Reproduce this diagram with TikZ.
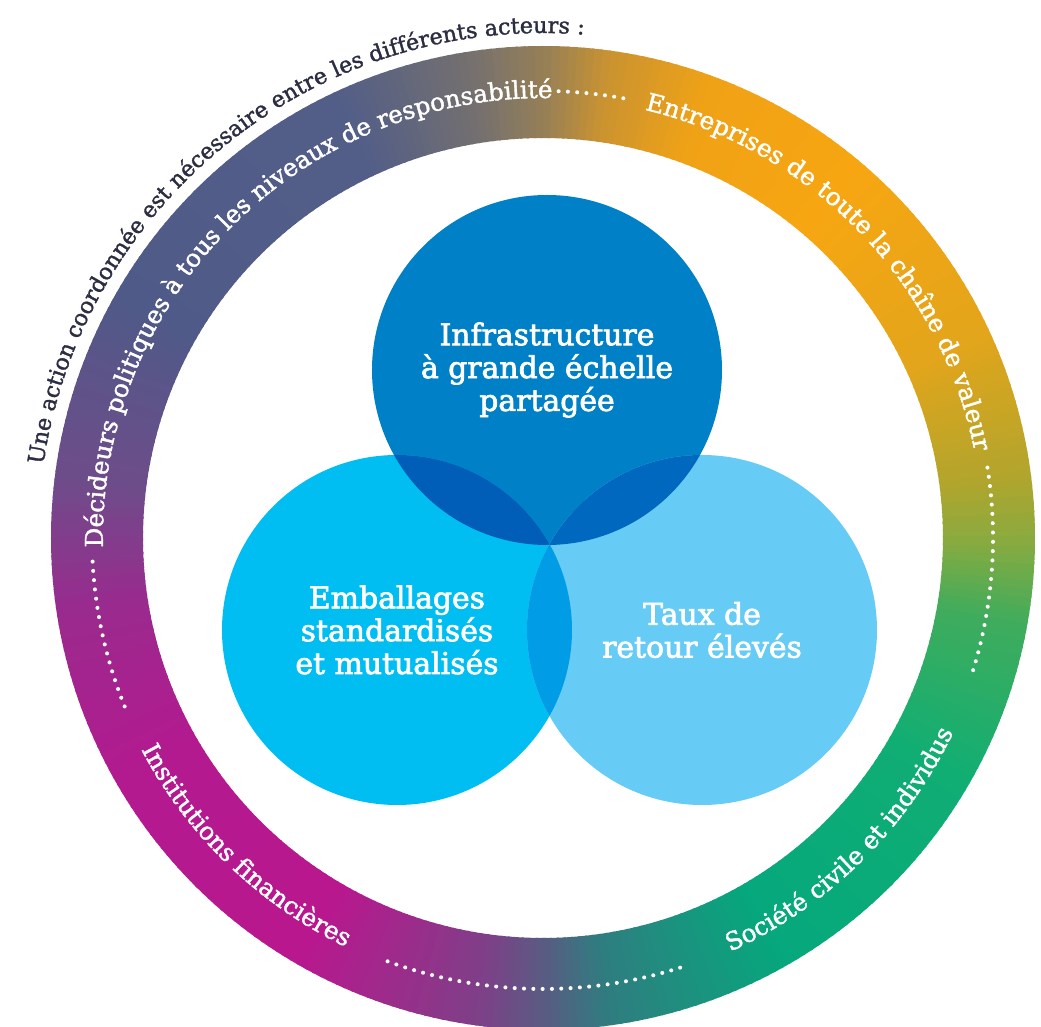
\documentclass[tikz,border=0pt]{standalone}
\usepackage{fontspec}
\setmainfont{DejaVu Serif}
\newfontfamily\ringfam{DejaVu Serif}[FakeBold=1.5]
\newfontfamily\vennfam{DejaVu Serif}[FakeBold=2.4]
\usetikzlibrary{decorations.text}
\usetikzlibrary{positioning}

\definecolor{infrablue}{HTML}{0080C6}
\definecolor{packblue}{HTML}{00BEF2}
\definecolor{returnblue}{HTML}{66CCF5}
\definecolor{infrapack}{HTML}{005EB8}
\definecolor{infrareturn}{HTML}{0068BF}
\definecolor{packreturn}{HTML}{009DE6}
\definecolor{titlenavy}{HTML}{2B2D42}

\definecolor{rA}{HTML}{8CAA3E}
\definecolor{rB}{HTML}{B3A52C}
\definecolor{rC}{HTML}{E3A51B}
\definecolor{rD}{HTML}{F7A611}
\definecolor{rE}{HTML}{F0A216}
\definecolor{rF}{HTML}{CA9330}
\definecolor{rG}{HTML}{957F57}
\definecolor{rH}{HTML}{747070}
\definecolor{rI}{HTML}{535E88}
\definecolor{rJ}{HTML}{4F5A88}
\definecolor{rK}{HTML}{6E4C8A}
\definecolor{rL}{HTML}{9A2A8E}
\definecolor{rM}{HTML}{B31A8F}
\definecolor{rN}{HTML}{B9178E}
\definecolor{rO}{HTML}{803F88}
\definecolor{rP}{HTML}{5A5B82}
\definecolor{rQ}{HTML}{2F7D80}
\definecolor{rR}{HTML}{06A87D}
\definecolor{rS}{HTML}{10AE74}
\definecolor{rT}{HTML}{40AC5C}

\newcommand{\ringfont}{\ringfam\fontsize{14}{16}\selectfont}
\newcommand{\titlefont}{\ringfam\fontsize{12.7}{15}\selectfont}

\tikzset{
  venntext/.style={align=center, text=white, font=\vennfam\fontsize{17}{18.7}\selectfont},
  ringlabel/.style={decorate, decoration={text along path, text align=center, text color=white, text={|\ringfont|#1}}},
  dotline/.style={draw=white, line width=2.3pt, line cap=round, dash pattern=on 0pt off 5.3pt}
}

\begin{document}
\begin{tikzpicture}[x=0.02cm, y=0.02cm]
\clip (-543,-489) rectangle (498,538);

\foreach \sa/\sb/\ca/\cb in {0/8/rA/rB, 8/25/rB/rC, 25/50/rC/rD, 50/70/rD/rE, 70/82/rE/rF, 82/90/rF/rG, 90/99/rG/rH, 99/115/rH/rI, 115/150/rI/rJ, 150/173/rJ/rK, 173/189/rK/rL, 189/210/rL/rM, 210/240/rM/rN, 240/262/rN/rO, 262/270/rO/rP, 270/278/rP/rQ, 278/300/rQ/rR, 300/330/rR/rS, 330/350/rS/rT, 350/360/rT/rA}{
  \pgfmathtruncatemacro\nseg{\sb-\sa}
  \foreach \i in {1,...,\nseg}{
    \pgfmathsetmacro\pa{\sa+\i-1}
    \pgfmathsetmacro\pb{\pa+1.3}
    \pgfmathtruncatemacro\mix{100-100*(\i-0.5)/\nseg}
    \fill[\ca!\mix!\cb] (\pa:400) arc[start angle=\pa, end angle=\pb, radius=400]
      -- (\pb:492) arc[start angle=\pb, end angle=\pa, radius=492] -- cycle;
  }
}

\path[ringlabel={Décideurs politiques à tous les niveaux de responsabilité}]
  (200:440) arc[start angle=200, end angle=70, radius=440];
\path[ringlabel={Entreprises de toute la chaîne de valeur}]
  (89:440) arc[start angle=89, end angle=-1, radius=440];
\path[ringlabel={Société civile et individus}]
  (-80:454) arc[start angle=-80, end angle=-11, radius=454];
\path[ringlabel={Institutions financières}]
  (190:454) arc[start angle=190, end angle=262, radius=454];
\path[decorate, decoration={text along path, text align=center, text color=titlenavy,
  text={|\titlefont|Une action coordonnée est nécessaire entre les différents acteurs :}}]
  (182:505) arc[start angle=182, end angle=75, radius=505];

\draw[dotline] (88:447) arc[start angle=88, end angle=78.5, radius=447];
\draw[dotline] (9:450) arc[start angle=9, end angle=-18, radius=450];
\draw[dotline] (-72.3:451) arc[start angle=-72.3, end angle=-110.4, radius=451];
\draw[dotline] (183:451) arc[start angle=183, end angle=202.7, radius=451];

\coordinate (infraC) at (4,168);
\coordinate (packC) at (-146,-92);
\coordinate (returnC) at (159,-92);

\fill[infrablue] (infraC) circle[radius=175];
\fill[packblue] (packC) circle[radius=175];
\fill[returnblue] (returnC) circle[radius=175];
\begin{scope}
  \clip (infraC) circle[radius=175];
  \fill[infrapack] (packC) circle[radius=175];
  \fill[infrareturn] (returnC) circle[radius=175];
\end{scope}
\begin{scope}
  \clip (packC) circle[radius=175];
  \fill[packreturn] (returnC) circle[radius=175];
\end{scope}

\node[venntext] (infra) at (infraC) {Infrastructure\\à grande échelle\\partagée};
\node[venntext] (pack) at (packC) {Emballages\\standardisés\\et mutualisés};
\node[venntext] (return) at (returnC) {Taux de\\retour élevés};
\end{tikzpicture}
\end{document}
